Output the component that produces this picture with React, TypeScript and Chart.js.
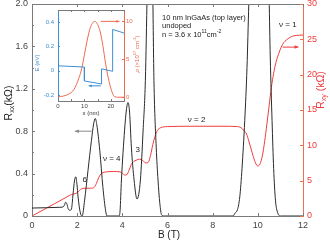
import React, { useEffect, useRef } from 'react';
import { Chart, registerables } from 'chart.js';

Chart.register(...registerables);

// ---------- Main chart data ----------
const RXX_B = [0, 0.6, 1.2, 1.37, 1.43, 1.49, 1.55, 1.6, 1.67, 1.74, 1.82, 1.88, 1.94, 1.99, 2.04, 2.14, 2.22, 2.33, 2.48, 2.63, 2.73, 2.8, 2.87, 3.0, 3.14, 3.26, 3.32, 3.85, 3.9, 3.96, 4.1, 4.18, 4.25, 4.32, 4.4, 4.52, 4.65, 4.8, 4.92, 5.02, 5.1, 5.2, 5.3, 5.4, 5.5, 5.58, 5.66, 5.74, 5.85, 8.9, 9.0, 9.1, 9.2, 9.3, 9.42, 9.52, 9.6, 9.75, 10.0, 10.3, 10.45, 10.55, 10.63, 10.7, 10.78, 10.88, 11.0, 12];
const RXX = [0.075, 0.078, 0.082, 0.085, 0.1, 0.13, 0.11, 0.07, 0.054, 0.06, 0.21, 0.33, 0.37, 0.3, 0.18, 0.03, 0.0, 0.15, 0.43, 0.71, 0.87, 0.92, 0.86, 0.62, 0.27, 0.05, 0.0, 0.0, 0.05, 0.34, 0.81, 1.0, 1.07, 0.98, 0.65, 0.34, 0.16, 0.34, 0.81, 1.28, 2.1, 3.0, 2.8, 1.28, 0.65, 0.34, 0.12, 0.01, 0, 0, 0.03, 0.06, 0.18, 0.45, 0.9, 1.4, 2.0, 3.0, 3.5, 3.4, 2.6, 1.5, 0.9, 0.45, 0.15, 0.03, 0, 0];

const RXY_B = [0, 1.0, 1.5, 1.65, 1.75, 1.9, 2.0, 2.1, 2.2, 2.4, 2.6, 2.75, 2.85, 2.95, 3.05, 3.15, 3.3, 3.6, 3.9, 4.0, 4.1, 4.2, 4.3, 4.4, 4.5, 4.62, 4.77, 4.9, 5.05, 5.15, 5.25, 5.35, 5.45, 5.55, 5.7, 6.0, 7.0, 8.5, 9.1, 9.25, 9.4, 9.5, 9.6, 9.7, 9.8, 9.9, 10.0, 10.1, 10.2, 10.3, 10.4, 10.5, 10.6, 10.7, 10.8, 10.95, 11.1, 11.3, 11.5, 11.7, 12];
const RXY = [0, 1.74, 2.62, 2.9, 3.05, 3.15, 3.3, 3.6, 3.85, 3.93, 3.93, 4.05, 4.6, 5.4, 5.95, 6.15, 6.25, 6.3, 6.25, 6.05, 5.8, 5.85, 6.5, 7.3, 7.7, 7.9, 8.05, 7.85, 7.5, 7.6, 8.6, 10.1, 11.3, 12.1, 12.5, 12.65, 12.7, 12.7, 12.65, 12.5, 12.05, 11.6, 10.6, 9.5, 8.4, 7.5, 7.07, 7.4, 8.5, 10.5, 13.0, 15.6, 18.2, 20.2, 21.7, 23.2, 24.3, 25.0, 25.4, 25.55, 25.6];

const X_TICKS = [0, 2, 4, 6, 8, 10, 12];
const RXX_TICKS = [0, 0.4, 0.8, 1.2, 1.6, 2.0];
const RXX_LABELS = ['0', '0.4', '0.8', '1.2', '1.6', '2.0'];
const RXY_TICKS = [0, 5, 10, 15, 20, 25, 30];

// ---------- Inset data ----------
const INSET_E_X = [0, 10, 10, 16.5, 16.5, 20.7, 20.7, 25];
const INSET_E = [0.04, 0.03, -0.085, -0.11, 0.015, -0.005, 0.34, 0.31];
const INSET_RHO_X = [0, 2, 4, 6, 8, 9, 10, 11, 12, 13, 14, 15, 16, 17, 18, 19, 20, 21, 21.6, 22.5, 25];
const INSET_RHO = [0.05, 0.15, 0.4, 1.0, 2.6, 3.8, 5.6, 7.4, 8.9, 9.75, 10.0, 9.6, 8.6, 6.8, 4.5, 2.6, 1.2, 0.25, 0.05, 0, 0];
const INSET_X_TICKS = [0, 10, 20];
const E_TICKS = [-0.2, 0, 0.2, 0.4];
const E_LABELS = ['-0.2', '0', '0.2', '0.4'];
const RHO_TICKS = [0, 5, 10];

const FONT = '"Liberation Sans", Arial, Helvetica, sans-serif';
const RED = '#f03c3c';
const AXIS_RED = '#ee7050';
const BLUE = '#3d8fd1';
const INSET_RED = '#ec6a4e';
const GREY = '#7a7a7a';

type Seg = { t: string; k?: 'sub' | 'sup' | 'it' };

function drawRich(ctx: CanvasRenderingContext2D, segs: Seg[], x: number, y: number, size: number, color: string, align: 'left' | 'center', rotate = false) {
  ctx.save();
  ctx.translate(x, y);
  if (rotate) ctx.rotate(-Math.PI / 2);
  ctx.fillStyle = color;
  ctx.textBaseline = 'middle';
  ctx.textAlign = 'left';
  const fontFor = (s: Seg) => {
    const sz = s.k === 'sub' || s.k === 'sup' ? size * 0.68 : size;
    return `${s.k === 'it' ? 'italic ' : ''}${sz}px ${FONT}`;
  };
  let total = 0;
  for (const s of segs) {
    ctx.font = fontFor(s);
    total += ctx.measureText(s.t).width;
  }
  let cx = align === 'center' ? -total / 2 : 0;
  for (const s of segs) {
    ctx.font = fontFor(s);
    const dy = s.k === 'sub' ? size * 0.3 : s.k === 'sup' ? -size * 0.4 : 0;
    ctx.fillText(s.t, cx, dy);
    cx += ctx.measureText(s.t).width;
  }
  ctx.restore();
}

function drawArrow(ctx: CanvasRenderingContext2D, x1: number, y1: number, x2: number, y2: number, color: string, head = 3) {
  ctx.save();
  ctx.strokeStyle = color;
  ctx.fillStyle = color;
  ctx.lineWidth = 1;
  ctx.beginPath();
  ctx.moveTo(x1, y1);
  ctx.lineTo(x2, y2);
  ctx.stroke();
  const ang = Math.atan2(y2 - y1, x2 - x1);
  ctx.beginPath();
  ctx.moveTo(x2, y2);
  ctx.lineTo(x2 - head * 1.6 * Math.cos(ang) + head * Math.sin(ang) * 0.7, y2 - head * 1.6 * Math.sin(ang) - head * Math.cos(ang) * 0.7);
  ctx.lineTo(x2 - head * 1.6 * Math.cos(ang) - head * Math.sin(ang) * 0.7, y2 - head * 1.6 * Math.sin(ang) + head * Math.cos(ang) * 0.7);
  ctx.closePath();
  ctx.fill();
  ctx.restore();
}

function seg(ctx: CanvasRenderingContext2D, x1: number, y1: number, x2: number, y2: number) {
  ctx.beginPath();
  ctx.moveTo(x1, y1);
  ctx.lineTo(x2, y2);
  ctx.stroke();
}

const mainDecor = {
  id: 'mainDecor',
  afterDraw(chart: any) {
    const { ctx, chartArea: a, scales } = chart;
    const xs = scales.x, ys = scales.y, y2 = scales.y2;
    ctx.save();
    ctx.lineWidth = 1;
    // top frame
    ctx.strokeStyle = GREY;
    seg(ctx, a.left, Math.round(a.top) + 0.5, a.right, Math.round(a.top) + 0.5);
    // x ticks (inward, bottom & top)
    for (const v of X_TICKS) {
      const px = Math.round(xs.getPixelForValue(v)) + 0.5;
      seg(ctx, px, a.bottom, px, a.bottom - 3);
      seg(ctx, px, a.top, px, a.top + 3);
    }
    // left ticks every 0.2
    for (let i = 0; i <= 10; i++) {
      const py = Math.round(ys.getPixelForValue(i * 0.2)) + 0.5;
      seg(ctx, a.left, py, a.left + (i % 2 === 0 ? 3 : 2), py);
    }
    // right ticks
    ctx.strokeStyle = AXIS_RED;
    for (const v of RXY_TICKS) {
      const py = Math.round(y2.getPixelForValue(v)) + 0.5;
      seg(ctx, a.right - 3, py, a.right, py);
    }
    ctx.restore();

    // annotations
    const at = (b: number, r: number) => [xs.getPixelForValue(b), ys.getPixelForValue(r)];
    const lab = (t: string, b: number, r: number) => {
      const [x, y] = at(b, r);
      drawRich(ctx, [{ t }], x, y, 8, '#222', 'center');
    };
    lab('ν = 1', 11.33, 1.8);
    lab('ν = 2', 7.29, 0.91);
    lab('ν = 4', 3.53, 0.535);
    lab('3', 4.68, 0.62);
    lab('6', 2.34, 0.34);

    const [tx, ty1] = at(5.76, 1.873);
    drawRich(ctx, [{ t: '10 nm InGaAs (top layer)' }], tx, ty1, 7.5, '#222', 'left');
    const [, ty2] = at(5.76, 1.792);
    drawRich(ctx, [{ t: 'undoped' }], tx, ty2, 7.5, '#222', 'left');
    const [, ty3] = at(5.76, 1.71);
    drawRich(ctx, [{ t: 'n = 3.6 x 10' }, { t: '11', k: 'sup' }, { t: 'cm' }, { t: '-2', k: 'sup' }], tx, ty3, 7.5, '#222', 'left');

    // arrows
    const [ax1, ay] = at(2.65, 0.8);
    const [ax2] = at(1.9, 0.8);
    drawArrow(ctx, ax1, ay, ax2, ay, '#888', 2.5);
    const rx1 = xs.getPixelForValue(11.1), rx2 = xs.getPixelForValue(11.8), ry = y2.getPixelForValue(23.9);
    drawArrow(ctx, rx1, ry, rx2, ry, RED, 2.5);

    // axis titles
    drawRich(ctx, [{ t: 'R' }, { t: 'xx', k: 'sub' }, { t: '(kΩ)' }], 9, 103, 10.5, '#222', 'center', true);
    drawRich(ctx, [{ t: 'R' }, { t: 'xy', k: 'sub' }, { t: ' (kΩ)' }], 321, 90, 10.5, RED, 'center', true);
    drawRich(ctx, [{ t: 'B (T)' }], 169, 235, 10, '#222', 'center');
  },
};

const insetDecor = {
  id: 'insetDecor',
  afterDraw(chart: any) {
    const { ctx, chartArea: a, scales } = chart;
    const xs = scales.x, ye = scales.y, yr = scales.y2;
    ctx.save();
    ctx.lineWidth = 1;
    ctx.strokeStyle = GREY;
    seg(ctx, a.left, Math.round(a.top) + 0.5, a.right, Math.round(a.top) + 0.5);
    for (let v = 0; v <= 25; v += 5) {
      const px = Math.round(xs.getPixelForValue(v)) + 0.5;
      seg(ctx, px, a.bottom, px, a.bottom - 2);
      seg(ctx, px, a.top, px, a.top + 2);
    }
    ctx.strokeStyle = BLUE;
    for (const v of E_TICKS) {
      const py = Math.round(ye.getPixelForValue(v)) + 0.5;
      seg(ctx, a.left, py, a.left + 2, py);
    }
    ctx.strokeStyle = INSET_RED;
    for (const v of RHO_TICKS) {
      const py = Math.round(yr.getPixelForValue(v)) + 0.5;
      seg(ctx, a.right - 2, py, a.right, py);
    }
    ctx.restore();

    // arrows
    drawArrow(ctx, xs.getPixelForValue(16.2), ye.getPixelForValue(-0.125), xs.getPixelForValue(11.6), ye.getPixelForValue(-0.125), BLUE, 2);
    drawArrow(ctx, xs.getPixelForValue(16.2), yr.getPixelForValue(10), xs.getPixelForValue(23.3), yr.getPixelForValue(10), INSET_RED, 2);

    // titles
    drawRich(ctx, [{ t: 'E (eV)' }], 4, 59, 6, BLUE, 'center', true);
    drawRich(ctx, [{ t: 'x (nm)' }], 58, 109, 6, '#333', 'center');
    drawRich(ctx, [{ t: 'ρ', k: 'it' }, { t: ' (×10' }, { t: '17', k: 'sup' }, { t: ' cm' }, { t: '-3', k: 'sup' }, { t: ')' }], 104, 50, 6, INSET_RED, 'center', true);
  },
};

export default function App() {
  const mainRef = useRef<HTMLCanvasElement>(null);
  const insetRef = useRef<HTMLCanvasElement>(null);

  useEffect(() => {
    const main = new Chart(mainRef.current as HTMLCanvasElement, {
      type: 'line',
      data: {
        datasets: [
          {
            data: RXX_B.map((b, i) => ({ x: b, y: RXX[i] })),
            yAxisID: 'y',
            borderColor: '#2a2a2a',
            borderWidth: 1,
            pointRadius: 0,
            cubicInterpolationMode: 'monotone',
          },
          {
            data: RXY_B.map((b, i) => ({ x: b, y: RXY[i] })),
            yAxisID: 'y2',
            borderColor: RED,
            borderWidth: 1,
            pointRadius: 0,
            cubicInterpolationMode: 'monotone',
          },
        ],
      },
      options: {
        animation: false,
        responsive: false,
        events: [],
        layout: { padding: { top: 4, left: 0, right: 0, bottom: 0 } },
        plugins: { legend: { display: false }, tooltip: { enabled: false } },
        scales: {
          x: {
            type: 'linear',
            min: 0,
            max: 12,
            afterBuildTicks: (s: any) => { s.ticks = X_TICKS.map((v) => ({ value: v })); },
            afterFit: (s: any) => { s.height = 31; s.paddingLeft = 0; s.paddingRight = 0; },
            grid: { display: false, drawTicks: false, tickLength: 0 },
            border: { display: true, color: GREY, width: 1 },
            ticks: { font: { family: FONT, size: 9 }, color: '#444', padding: 4, maxRotation: 0, autoSkip: false },
          },
          y: {
            type: 'linear',
            position: 'left',
            min: 0,
            max: 2,
            afterBuildTicks: (s: any) => { s.ticks = RXX_TICKS.map((v) => ({ value: v })); },
            afterFit: (s: any) => { s.width = 32; s.paddingTop = 0; s.paddingBottom = 0; },
            grid: { display: false, drawTicks: false, tickLength: 0 },
            border: { display: true, color: GREY, width: 1 },
            ticks: {
              font: { family: FONT, size: 9 },
              color: '#444',
              padding: 4,
              autoSkip: false,
              callback: (v: any) => {
                const i = RXX_TICKS.findIndex((t) => Math.abs(t - v) < 1e-6);
                return i >= 0 ? RXX_LABELS[i] : '';
              },
            },
          },
          y2: {
            type: 'linear',
            position: 'right',
            min: 0,
            max: 30,
            afterBuildTicks: (s: any) => { s.ticks = RXY_TICKS.map((v) => ({ value: v })); },
            afterFit: (s: any) => { s.width = 27; s.paddingTop = 0; s.paddingBottom = 0; },
            grid: { display: false, drawTicks: false, tickLength: 0 },
            border: { display: true, color: AXIS_RED, width: 1 },
            ticks: { font: { family: FONT, size: 9 }, color: RED, padding: 4, autoSkip: false },
          },
        },
      },
      plugins: [mainDecor],
    } as any);

    const inset = new Chart(insetRef.current as HTMLCanvasElement, {
      type: 'line',
      data: {
        datasets: [
          {
            data: INSET_E_X.map((x, i) => ({ x, y: INSET_E[i] })),
            yAxisID: 'y',
            borderColor: BLUE,
            borderWidth: 1,
            pointRadius: 0,
            tension: 0,
          },
          {
            data: INSET_RHO_X.map((x, i) => ({ x, y: INSET_RHO[i] })),
            yAxisID: 'y2',
            borderColor: INSET_RED,
            borderWidth: 1,
            pointRadius: 0,
            cubicInterpolationMode: 'monotone',
          },
        ],
      },
      options: {
        animation: false,
        responsive: false,
        events: [],
        layout: { padding: { top: 6, left: 0, right: 0, bottom: 0 } },
        plugins: { legend: { display: false }, tooltip: { enabled: false } },
        scales: {
          x: {
            type: 'linear',
            min: 0,
            max: 25,
            afterBuildTicks: (s: any) => { s.ticks = INSET_X_TICKS.map((v) => ({ value: v })); },
            afterFit: (s: any) => { s.height = 19; s.paddingLeft = 0; s.paddingRight = 0; },
            grid: { display: false, drawTicks: false, tickLength: 0 },
            border: { display: true, color: GREY, width: 1 },
            ticks: { font: { family: FONT, size: 6 }, color: '#444', padding: 2, maxRotation: 0, autoSkip: false },
          },
          y: {
            type: 'linear',
            position: 'left',
            min: -0.25,
            max: 0.5,
            afterBuildTicks: (s: any) => { s.ticks = E_TICKS.map((v) => ({ value: v })); },
            afterFit: (s: any) => { s.width = 25; s.paddingTop = 0; s.paddingBottom = 0; },
            grid: { display: false, drawTicks: false, tickLength: 0 },
            border: { display: true, color: BLUE, width: 1 },
            ticks: {
              font: { family: FONT, size: 6 },
              color: BLUE,
              padding: 4,
              autoSkip: false,
              callback: (v: any) => {
                const i = E_TICKS.findIndex((t) => Math.abs(t - v) < 1e-6);
                return i >= 0 ? E_LABELS[i] : '';
              },
            },
          },
          y2: {
            type: 'linear',
            position: 'right',
            min: -0.5,
            max: 11.5,
            afterBuildTicks: (s: any) => { s.ticks = RHO_TICKS.map((v) => ({ value: v })); },
            afterFit: (s: any) => { s.width = 19; s.paddingTop = 0; s.paddingBottom = 0; },
            grid: { display: false, drawTicks: false, tickLength: 0 },
            border: { display: true, color: INSET_RED, width: 1 },
            ticks: { font: { family: FONT, size: 6 }, color: INSET_RED, padding: 2, autoSkip: false },
          },
        },
      },
      plugins: [insetDecor],
    } as any);

    return () => {
      main.destroy();
      inset.destroy();
    };
  }, []);

  return (
    <div style={{ position: 'fixed', left: 0, top: 0, width: 330, height: 247, background: '#fff' }}>
      <canvas ref={mainRef} width={330} height={247} style={{ position: 'absolute', left: 0, top: 0, width: 330, height: 247 }} />
      <canvas ref={insetRef} width={110} height={116} style={{ position: 'absolute', left: 33, top: 4, width: 110, height: 116 }} />
    </div>
  );
}
